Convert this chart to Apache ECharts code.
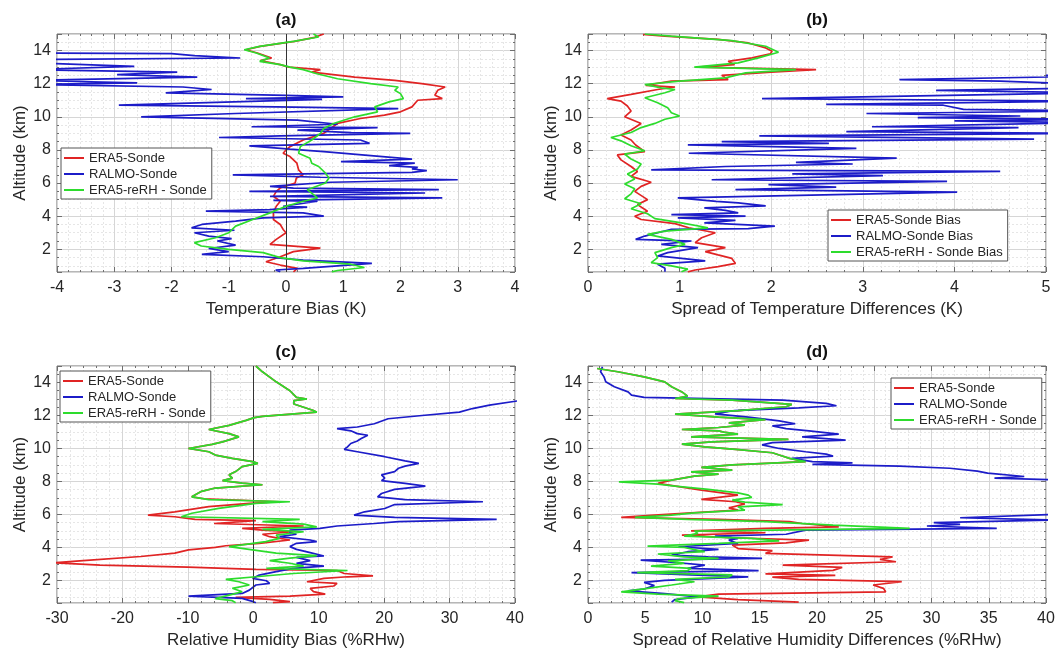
<!DOCTYPE html>
<html><head><meta charset="utf-8">
<script src="https://cdn.jsdelivr.net/npm/echarts@6/dist/echarts.min.js"></script>
<style>html,body{margin:0;padding:0;background:#fff}#c{width:1058px;height:653px}</style>
</head><body><div id="c"></div>
<script>
// ---------- DATA: [value, altitude km] ----------
// (a) Temperature bias (K)
const tBiasERA5 = [[0.66,15.0],[0.69,14.9],[0.5,14.8],[0.15,14.55],[-0.45,14.25],[-0.7,14.05],[-0.5,13.85],[-0.25,13.55],[-0.45,13.4],[-0.1,13.15],[0.05,13.0],[0.6,12.85],[0.45,12.7],[1.2,12.4],[1.9,12.2],[2.37,12.0],[2.78,11.8],[2.65,11.6],[2.6,11.3],[2.73,11.1],[2.3,11.0],[2.2,10.6],[2.0,10.3],[1.72,10.1],[1.3,9.9],[0.9,9.6],[0.66,9.0],[0.3,8.6],[0.07,8.2],[0.0,8.0],[-0.05,7.8],[0.07,7.6],[0.19,7.2],[0.22,6.8],[0.3,6.5],[0.18,6.3],[0.16,6.0],[-0.1,5.7],[-0.17,5.5],[-0.22,5.2],[-0.1,4.9],[-0.17,4.6],[-0.22,4.2],[-0.22,3.8],[-0.1,3.5],[-0.05,3.2],[0.0,3.0],[-0.17,2.6],[-0.28,2.3],[0.6,2.07],[0.13,1.86],[-0.1,1.55],[-0.35,1.25],[-0.1,1.05],[0.2,0.85],[0.13,0.64]];
const tBiasRALMO = [[-4.5,13.85],[-2.0,13.82],[-1.6,13.7],[-0.8,13.55],[-4.5,13.45],[-4.3,13.25],[-2.65,13.05],[-4.5,12.85],[-1.9,12.7],[-2.95,12.55],[-1.55,12.4],[-4.5,12.2],[-2.6,12.05],[-4.5,11.95],[-1.8,11.8],[-1.3,11.65],[-2.1,11.45],[0.0,11.3],[1.0,11.2],[-0.7,11.1],[0.63,11.05],[-2.92,10.7],[-0.17,10.6],[1.96,10.5],[-0.88,10.2],[-2.53,10.0],[0.2,9.8],[0.9,9.55],[-0.6,9.4],[1.6,9.35],[0.2,9.2],[1.14,9.05],[2.17,9.0],[-0.1,8.85],[-1.17,8.75],[1.3,8.6],[1.46,8.4],[-0.64,8.25],[0.07,8.05],[0.66,7.9],[2.2,7.45],[0.96,7.3],[2.25,7.2],[1.8,7.05],[2.3,6.95],[2.2,6.85],[2.46,6.75],[2.2,6.65],[-0.93,6.5],[0.6,6.35],[3.0,6.2],[0.78,6.05],[-0.28,5.8],[0.13,5.7],[2.67,5.6],[-0.64,5.5],[2.43,5.4],[-0.28,5.2],[2.73,5.1],[-0.22,4.95],[0.55,4.9],[-0.05,4.6],[0.37,4.55],[-0.28,4.4],[-1.4,4.3],[0.3,4.2],[0.66,4.0],[-0.4,3.9],[-0.88,3.7],[-1.47,3.5],[-1.65,3.3],[-0.9,3.15],[-1.6,3.0],[-1.35,2.8],[-0.95,2.65],[-1.2,2.5],[-0.88,2.25],[-1.35,2.05],[-1.0,1.86],[-1.47,1.7],[-0.4,1.55],[0.3,1.35],[1.5,1.15],[1.52,1.05],[0.3,0.85],[-0.18,0.75],[-0.1,0.64]];
const tBiasReRH = [[0.48,15.0],[0.57,14.82],[0.13,14.55],[-0.46,14.25],[-0.73,14.05],[-0.52,13.85],[-0.29,13.55],[-0.46,13.35],[-0.1,13.15],[0.07,13.0],[0.3,12.85],[0.54,12.6],[0.9,12.3],[1.48,12.0],[1.96,11.8],[1.9,11.6],[2.0,11.4],[2.05,11.1],[1.8,10.9],[1.55,10.6],[1.6,10.3],[1.2,10.0],[0.83,9.6],[0.66,9.3],[0.6,9.0],[0.45,8.6],[0.25,8.2],[0.22,7.8],[0.42,7.5],[0.45,7.2],[0.57,7.0],[0.69,6.6],[0.75,6.3],[0.69,6.0],[0.37,5.6],[0.48,5.3],[0.55,5.1],[0.3,4.9],[0.0,4.6],[-0.28,4.2],[-0.58,3.8],[-0.88,3.4],[-1.0,3.0],[-1.23,2.7],[-1.6,2.4],[-1.48,2.2],[-1.0,2.0],[-0.4,1.8],[-0.1,1.5],[0.3,1.3],[1.13,1.1],[1.37,0.9],[0.9,0.72],[0.8,0.64]];
// (b) Spread of temperature differences (K)
const tSpreadERA5 = [[0.6,14.97],[0.84,14.87],[1.42,14.67],[1.75,14.46],[1.94,14.16],[2.01,13.96],[1.99,13.8],[1.79,13.56],[1.53,13.35],[1.6,13.15],[1.2,13.0],[2.49,12.85],[2.0,12.7],[1.46,12.5],[1.53,12.25],[0.91,12.15],[0.63,11.9],[0.95,11.8],[0.76,11.65],[0.47,11.35],[0.21,11.1],[0.36,10.95],[0.43,10.65],[0.47,10.35],[0.4,10.0],[0.58,9.6],[0.47,9.2],[0.36,8.9],[0.47,8.6],[0.52,8.3],[0.62,7.9],[0.32,7.7],[0.36,7.4],[0.47,7.0],[0.54,6.7],[0.47,6.4],[0.69,6.05],[0.58,5.8],[0.51,5.5],[0.65,5.0],[0.54,4.7],[0.65,4.3],[0.51,4.0],[0.58,3.8],[0.95,3.55],[1.1,3.3],[1.39,3.0],[1.24,2.7],[1.17,2.4],[1.5,2.1],[1.28,1.86],[1.42,1.66],[1.57,1.45],[1.61,1.15],[1.42,0.95],[1.17,0.75],[1.09,0.64]];
const tSpreadRALMO = [[5.0,12.5],[5.5,12.45],[3.4,12.25],[4.5,12.15],[5.5,11.95],[5.5,11.75],[3.8,11.6],[5.5,11.45],[1.9,11.1],[5.5,10.95],[2.6,10.75],[3.88,10.7],[4.1,10.45],[5.5,10.35],[3.04,10.2],[4.72,10.05],[3.6,9.95],[5.5,9.85],[4.0,9.75],[5.5,9.65],[3.1,9.4],[4.7,9.35],[2.82,9.1],[5.5,9.0],[1.87,8.85],[4.87,8.65],[1.46,8.5],[2.63,8.4],[1.09,8.3],[2.93,8.1],[1.1,7.8],[3.37,7.5],[2.27,7.25],[2.89,7.15],[1.5,7.0],[0.69,6.8],[4.5,6.7],[2.23,6.55],[3.22,6.45],[1.35,6.2],[3.92,6.1],[1.97,5.9],[2.71,5.75],[1.61,5.6],[4.03,5.45],[0.98,5.1],[1.4,4.9],[1.64,4.8],[1.94,4.62],[1.27,4.5],[1.5,4.35],[1.64,4.2],[0.91,4.1],[1.72,4.0],[0.98,3.9],[1.61,3.75],[1.27,3.6],[2.04,3.4],[1.75,3.25],[0.91,3.2],[0.76,3.0],[0.62,2.8],[0.52,2.6],[1.13,2.5],[0.8,2.3],[1.2,2.1],[0.87,1.8],[0.76,1.6],[1.28,1.3],[0.76,1.1],[0.84,0.85],[0.84,0.64]];
const tSpreadReRH = [[0.62,15.0],[0.91,14.87],[1.57,14.6],[1.94,14.26],[2.08,13.9],[1.86,13.56],[1.64,13.26],[1.16,13.0],[2.27,12.85],[1.72,12.65],[1.5,12.35],[1.0,12.15],[0.62,11.95],[0.8,11.75],[0.95,11.65],[0.84,11.45],[0.62,11.15],[0.76,10.85],[0.87,10.55],[0.91,10.25],[1.0,10.05],[0.84,9.85],[0.73,9.6],[0.58,9.35],[0.47,9.05],[0.25,8.75],[0.36,8.55],[0.47,8.25],[0.62,7.95],[0.4,7.75],[0.47,7.45],[0.58,7.15],[0.54,6.85],[0.43,6.55],[0.51,6.25],[0.4,5.95],[0.51,5.65],[0.47,5.35],[0.4,5.05],[0.58,4.75],[0.47,4.45],[0.65,4.15],[0.73,3.85],[1.02,3.6],[1.31,3.3],[0.84,3.1],[0.65,2.9],[0.91,2.6],[1.06,2.3],[0.91,2.1],[0.73,1.8],[0.76,1.5],[0.69,1.2],[0.91,1.0],[1.09,0.8],[1.02,0.64]];
// (c) Relative humidity bias (%RHw)
const rhBiasUpper = [[0.4,15.0],[1.4,14.65],[3.5,14.04],[5.6,13.5],[6.6,13.1],[8.2,13.0],[6.2,12.9],[6.2,12.7],[9.2,12.3],[9.7,12.2],[1.4,11.95],[0.15,11.87],[-1.1,11.7],[-3.7,11.4],[-6.8,11.15],[-3.7,10.9],[-2.2,10.7],[-4.7,10.4],[-6.3,10.25],[-9.9,10.0],[-6.8,9.8],[-5.8,9.6],[-3.2,9.4],[-0.1,9.2],[0.7,9.1],[-1.7,8.9],[-2.7,8.6],[-3.7,8.4],[-3.2,8.2],[-4.7,8.05],[-1.7,7.9],[1.4,7.8],[-5.8,7.6],[-7.9,7.4],[-9.4,7.07]];
const rhBiasERA5Lower = [[-7.5,6.95],[4.0,6.77],[-0.6,6.67],[-6.8,6.47],[-12.0,6.16],[-16.1,5.96],[-12.0,5.86],[-8.9,5.7],[0.4,5.62],[-6.0,5.45],[7.7,5.3],[-1.7,5.15],[1.4,5.05],[6.1,4.95],[1.4,4.8],[2.5,4.65],[5.6,4.45],[0.9,4.25],[-4.2,4.1],[-5.8,4.0],[-9.9,3.85],[-12.0,3.65],[-17.2,3.45],[-26.0,3.2],[-30.5,3.07],[-23.4,2.93],[-10.0,2.8],[0.4,2.67],[12.8,2.6],[13.9,2.42],[18.3,2.28],[14.4,2.22],[10.8,2.12],[8.2,1.92],[12.8,1.82],[12.3,1.66],[8.7,1.52],[9.2,1.32],[11.0,1.17],[5.6,1.05],[-2.7,0.97],[2.5,0.85],[5.6,0.71],[3.0,0.65]];
const rhBiasReRHLower = [[-6.8,6.9],[5.6,6.77],[0.4,6.67],[-5.3,6.37],[-9.4,6.07],[-11.0,5.86],[7.1,5.7],[1.4,5.56],[7.7,5.41],[9.7,5.25],[1.4,5.1],[7.7,4.95],[3.5,4.75],[4.0,4.55],[1.9,4.35],[-1.7,4.15],[-3.7,4.05],[-0.1,3.85],[3.5,3.65],[9.7,3.5],[5.6,3.35],[2.5,3.2],[5.6,3.04],[7.7,2.87],[2.0,2.73],[14.4,2.6],[6.1,2.42],[0.4,2.22],[-4.2,2.06],[-2.2,1.92],[-0.6,1.72],[-3.2,1.52],[-1.7,1.31],[-3.7,1.11],[-5.8,0.9],[-3.2,0.77],[-2.7,0.65]];
const rhBiasRALMO = [[40.5,12.89],[36.1,12.63],[33.5,12.42],[31.5,12.2],[25.8,12.0],[20.6,11.8],[18.5,11.5],[15.9,11.3],[12.8,11.2],[14.9,11.07],[15.9,10.9],[17.5,10.8],[16.5,10.6],[15.9,10.45],[14.9,10.3],[14.4,10.1],[13.9,9.94],[15.9,9.8],[20.1,9.5],[23.2,9.25],[25.3,9.1],[23.2,8.93],[22.2,8.8],[21.6,8.6],[19.6,8.4],[20.1,8.2],[19.6,8.05],[23.2,7.88],[26.3,7.72],[21.6,7.52],[19.6,7.27],[19.0,7.07],[23.2,6.9],[35.1,6.77],[21.6,6.6],[20.1,6.36],[17.0,6.16],[15.4,5.96],[21.6,5.82],[37.2,5.7],[22.2,5.56],[18.5,5.45],[12.8,5.3],[10.2,5.15],[5.6,5.05],[5.6,4.9],[6.6,4.8],[4.0,4.65],[8.7,4.45],[9.7,4.35],[6.6,4.25],[5.6,4.05],[6.6,3.88],[8.7,3.68],[10.8,3.48],[6.6,3.4],[8.7,3.2],[6.6,3.03],[10.8,2.87],[6.1,2.73],[3.5,2.53],[0.9,2.32],[-0.1,2.12],[2.0,1.98],[2.5,1.82],[0.4,1.72],[-0.6,1.41],[-1.7,1.21],[-9.9,1.05],[-1.7,0.91],[0.0,0.71],[0.4,0.65]];
// (d) Spread of relative humidity differences (%RHw)
const rhSpreadUpper = [[0.8,14.85],[2.6,14.65],[4.9,14.34],[6.7,14.04],[7.3,13.74],[8.2,13.43],[8.7,13.17],[7.6,13.03],[12.6,12.93],[17.8,12.67],[17.3,12.53],[13.1,12.3],[7.6,12.08],[11.4,11.9],[15.5,11.75],[12.3,11.55],[13.7,11.41],[11.4,11.27],[8.2,11.15],[11.4,11.07],[12.0,10.97],[13.1,10.87],[9.0,10.7],[17.5,10.55],[10.8,10.4],[8.2,10.26],[10.2,10.1],[12.9,9.94],[16.1,9.74],[16.7,9.6],[17.6,9.4],[19.0,9.2],[12.6,9.0],[9.9,8.85],[12.6,8.69],[9.0,8.58],[11.4,8.44],[9.3,8.32],[7.3,8.08]];
const rhSpreadERA5Lower = [[6.1,7.88],[9.9,7.47],[11.7,7.31],[13.1,7.17],[9.9,6.91],[12.9,6.77],[13.7,6.63],[12.3,6.4],[13.1,6.26],[9.0,6.1],[5.8,5.96],[2.9,5.82],[11.4,5.7],[17.6,5.56],[18.7,5.45],[21.9,5.25],[15.5,5.15],[9.0,5.0],[15.5,4.89],[8.2,4.75],[12.0,4.6],[19.3,4.44],[17.3,4.28],[12.6,4.14],[13.1,3.93],[16.1,3.8],[15.5,3.64],[26.6,3.43],[25.5,3.27],[26.9,3.13],[17.0,2.93],[22.2,2.79],[21.4,2.61],[15.5,2.4],[21.6,2.3],[16.1,2.2],[18.4,2.06],[27.4,1.92],[24.9,1.72],[25.8,1.52],[26.0,1.31],[11.4,1.17],[9.6,1.0],[13.1,0.84],[18.4,0.68]];
const rhSpreadReRHLower = [[2.7,7.98],[6.1,7.84],[7.6,7.72],[10.5,7.52],[13.1,7.31],[14.0,7.17],[14.3,7.03],[12.6,6.87],[13.7,6.75],[17.0,6.6],[13.1,6.46],[13.7,6.26],[9.3,6.1],[7.3,5.96],[4.1,5.82],[8.7,5.7],[15.5,5.56],[21.4,5.35],[28.1,5.15],[9.3,4.99],[9.6,4.85],[8.4,4.69],[14.3,4.55],[16.7,4.4],[11.4,4.24],[5.2,4.08],[8.4,4.0],[10.2,3.74],[6.1,3.6],[8.4,3.43],[11.4,3.33],[7.0,3.19],[8.4,3.03],[5.5,2.87],[9.0,2.73],[8.7,2.59],[4.3,2.47],[12.6,2.33],[12.3,2.22],[7.6,2.06],[9.3,1.92],[7.3,1.72],[5.2,1.52],[2.9,1.31],[6.1,1.17],[11.4,1.05],[7.9,0.9],[7.6,0.77],[8.4,0.65]];
const rhSpreadRALMO = [[1.26,14.95],[1.1,14.65],[1.4,14.34],[1.55,14.04],[2.3,13.74],[3.5,13.43],[3.8,13.23],[4.9,13.1],[17.0,12.93],[20.8,12.73],[21.7,12.59],[18.4,12.46],[12.8,12.3],[11.1,12.1],[14.0,11.9],[16.7,11.67],[18.1,11.5],[16.1,11.37],[17.3,11.2],[19.3,11.07],[21.9,10.87],[18.7,10.7],[22.5,10.5],[16.1,10.35],[15.2,10.22],[16.7,10.0],[19.0,9.8],[20.8,9.66],[21.4,9.54],[17.8,9.4],[19.6,9.2],[23.1,9.13],[19.6,9.03],[27.2,8.93],[31.6,8.8],[34.0,8.63],[34.9,8.5],[38.1,8.3],[35.5,8.2],[40.5,8.1],[45,7.5],[45,6.2],[40.5,6.0],[32.5,5.8],[40.5,5.66],[30.2,5.5],[32.5,5.4],[29.6,5.3],[35.7,5.15],[19.0,5.05],[19.0,4.95],[17.3,4.8],[11.1,4.69],[13.1,4.55],[12.3,4.44],[13.1,4.24],[7.9,4.04],[11.4,3.88],[8.7,3.74],[7.3,3.53],[10.5,3.43],[15.2,3.33],[4.6,3.23],[7.9,3.07],[10.2,2.93],[8.7,2.73],[14.9,2.59],[3.8,2.47],[9.0,2.33],[14.0,2.22],[6.7,2.0],[4.9,1.88],[5.8,1.68],[4.9,1.48],[3.5,1.36],[6.7,1.2],[9.6,1.0],[7.6,0.84],[7.3,0.68]];

const panelTitles = ['(a)','(b)','(c)','(d)'];
const xNames = ['Temperature Bias (K)','Spread of Temperature Differences (K)','Relative Humidity Bias (%RHw)','Spread of Relative Humidity Differences (%RHw)'];
const xRanges = [[-4,4,1],[0,5,1],[-30,40,10],[0,40,5]];
const yRange = [0.63, 15];
const namesStd = ['ERA5-Sonde','RALMO-Sonde','ERA5-reRH - Sonde'];
const namesB = ['ERA5-Sonde Bias','RALMO-Sonde Bias','ERA5-reRH - Sonde Bias'];

// ---------- STYLE / LAYOUT ----------
const FONT = '"Liberation Sans", Arial, Helvetica, sans-serif';
const RED = '#e02424', BLUE = '#1c1cc8', GREEN = '#2ddc2d';
const TXT = '#262626', BOX = '#6e6e6e';
const gridsPos = [
  {left:57, top:34, width:458, height:238},
  {left:588, top:34, width:458, height:238},
  {left:57, top:366, width:458, height:237},
  {left:588, top:366, width:458, height:237}
];
const legendPos = [
  {left:61, top:148}, {left:828, top:210}, {left:60, top:371}, {left:891, top:378}
];

const panelSeries = [
  [tBiasERA5, tBiasRALMO, tBiasReRH],
  [tSpreadERA5, tSpreadRALMO, tSpreadReRH],
  [rhBiasUpper.concat(rhBiasERA5Lower), rhBiasRALMO, rhBiasUpper.concat(rhBiasReRHLower)],
  [rhSpreadUpper.concat(rhSpreadERA5Lower), rhSpreadRALMO, rhSpreadUpper.concat(rhSpreadReRHLower)]
];
const colors = [RED, BLUE, GREEN];

const grid = gridsPos.map(g => Object.assign({show:true, borderColor:BOX, borderWidth:1, backgroundColor:'#fff', containLabel:false}, g));
const xAxis = [], yAxis = [], series = [], legend = [], graphic = [];
const minorLine = {show:true, lineStyle:{color:'#e6e6e6', width:1, type:[2,2]}};
const majorLine = {show:true, lineStyle:{color:'#d6d6d6', width:1}};
const noLine = {show:false, onZero:false};

for (let i = 0; i < 4; i++) {
  const [mn, mx, iv] = xRanges[i];
  xAxis.push({
    gridIndex:i, type:'value', min:mn, max:mx, interval:iv, position:'bottom',
    name:xNames[i], nameLocation:'middle', nameGap:29,
    nameTextStyle:{fontSize:17, color:TXT, fontFamily:FONT},
    axisLine:noLine,
    axisTick:{show:true, inside:true, length:5, lineStyle:{color:BOX}},
    minorTick:{show:true, splitNumber:5, length:2, lineStyle:{color:BOX}},
    axisLabel:{fontSize:16, color:TXT, fontFamily:FONT, margin:8},
    splitLine:majorLine, minorSplitLine:minorLine
  });
  xAxis.push({
    gridIndex:i, type:'value', min:mn, max:mx, interval:iv, position:'top',
    axisLine:noLine, axisLabel:{show:false}, splitLine:{show:false},
    axisTick:{show:true, inside:true, length:5, lineStyle:{color:BOX}},
    minorTick:{show:true, splitNumber:5, length:2, lineStyle:{color:BOX}}
  });
  const yCommon = {gridIndex:i, type:'value', min:yRange[0], max:yRange[1], splitNumber:7, minInterval:2, maxInterval:2};
  yAxis.push(Object.assign({}, yCommon, {
    position:'left', name:'Altitude (km)', nameLocation:'middle', nameGap:27, nameRotate:90,
    nameTextStyle:{fontSize:17, color:TXT, fontFamily:FONT},
    axisLine:noLine,
    axisTick:{show:true, inside:true, length:5, lineStyle:{color:BOX}},
    minorTick:{show:true, splitNumber:4, length:2, lineStyle:{color:BOX}},
    axisLabel:{fontSize:16, color:TXT, fontFamily:FONT, margin:6, showMinLabel:false, showMaxLabel:false,
      formatter: v => (Math.abs(v/2 - Math.round(v/2)) < 1e-6 ? String(v) : '')},
    splitLine:majorLine, minorSplitLine:minorLine
  }));
  yAxis.push(Object.assign({}, yCommon, {
    position:'right', axisLine:noLine, axisLabel:{show:false}, splitLine:{show:false},
    axisTick:{show:true, inside:true, length:5, lineStyle:{color:BOX}},
    minorTick:{show:true, splitNumber:4, length:2, lineStyle:{color:BOX}}
  }));
  const names = i === 1 ? namesB : namesStd;
  for (let k = 0; k < 3; k++) {
    const s = {
      type:'line', name:names[k], xAxisIndex:2*i, yAxisIndex:2*i,
      data:panelSeries[i][k], showSymbol:false, symbol:'none', smooth:false, clip:true,
      lineStyle:{color:colors[k], width:1.7}, itemStyle:{color:colors[k]},
      animation:false, z:3+k
    };
    if (k === 0 && (i === 0 || i === 2)) {
      s.markLine = {silent:true, symbol:'none', label:{show:false}, animation:false,
        lineStyle:{color:'#333', width:1, type:'solid'}, data:[{xAxis:0}]};
    }
    series.push(s);
  }
  legend.push(Object.assign({
    orient:'vertical', data:names, icon:'rect', itemWidth:20, itemHeight:2, itemGap:2,
    padding:[3,5,2,3], backgroundColor:'#fff', borderColor:'#555', borderWidth:1, borderRadius:0,
    selectedMode:false, z:10,
    textStyle:{fontSize:13, color:TXT, fontFamily:FONT, lineHeight:14}
  }, legendPos[i]));
  const g = gridsPos[i];
  graphic.push({type:'text', x:g.left + g.width/2, y:g.top - 14, z:10,
    style:{text:panelTitles[i], textAlign:'center', textVerticalAlign:'middle',
      font:'bold 17px ' + FONT, fill:'#111'}});
}

const chart = echarts.init(document.getElementById('c'), null, {renderer:'canvas'});
chart.setOption({
  backgroundColor:'#fff', animation:false,
  grid, xAxis, yAxis, series, legend, graphic
});
</script></body></html>
